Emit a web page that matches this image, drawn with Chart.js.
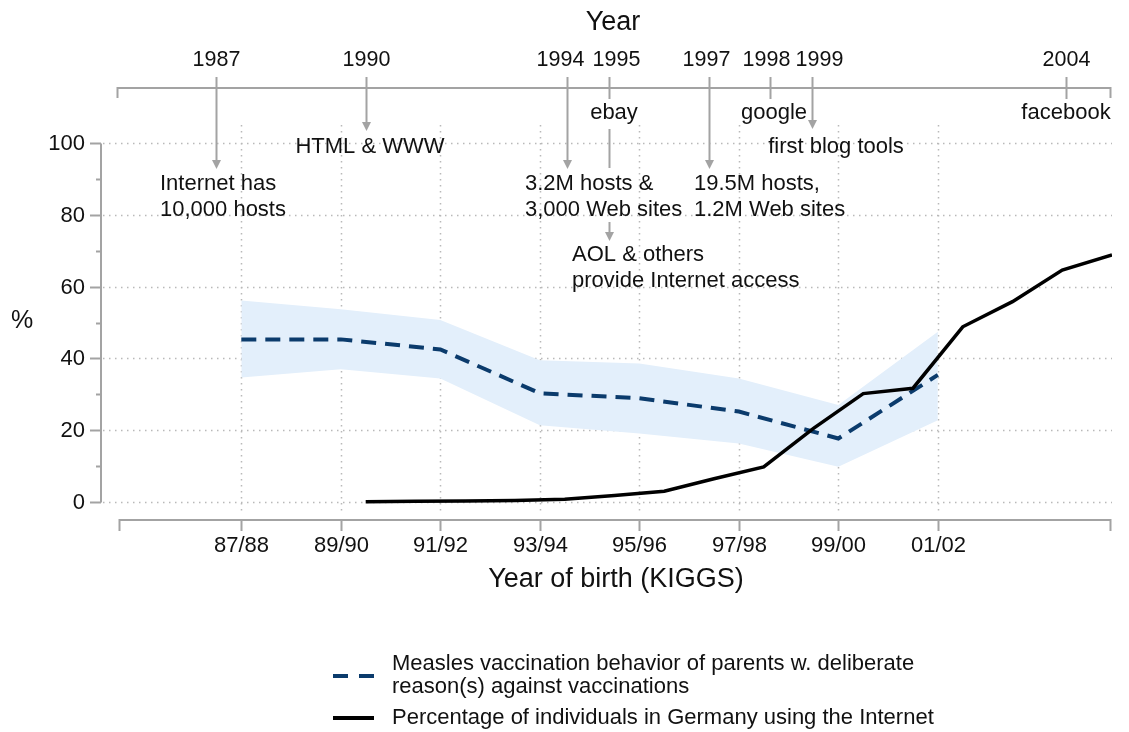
<!DOCTYPE html>
<html>
<head>
<meta charset="utf-8">
<script src="https://cdn.jsdelivr.net/npm/chart.js@4"></script>
<style>
  html, body { margin: 0; padding: 0; background: #fff; overflow: hidden; }
  #wrap { width: 1129px; height: 732px; }
</style>
</head>
<body>
<div id="wrap"><canvas id="chart" width="1129" height="732"></canvas></div>
<script>
// Birth cohorts (KIGGS), placed at the middle of the two years
const cohortLabels = ['87/88', '89/90', '91/92', '93/94', '95/96', '97/98', '99/00', '01/02'];
const cohortPos = [1987.5, 1989.5, 1991.5, 1993.5, 1995.5, 1997.5, 1999.5, 2001.5];

// Measles: parents with deliberate reasons against vaccination (%), with band
const measles = [45.3, 45.3, 42.5, 30.3, 28.9, 25.2, 17.7, 35.4];
const measlesUpper = [56.1, 53.7, 50.7, 39.5, 38.6, 34.4, 27.0, 47.4];
const measlesLower = [34.7, 37.0, 34.4, 21.4, 19.1, 16.3, 9.8, 22.8];

// Internet users in Germany (%)
const netYears = [1990, 1991, 1992, 1993, 1994, 1995, 1996, 1997, 1998, 1999, 2000, 2001, 2002, 2003, 2004, 2005];
const netUsers = [0.1, 0.2, 0.3, 0.4, 0.8, 1.8, 3.0, 6.5, 9.8, 20.5, 30.2, 31.7, 48.8, 55.8, 64.6, 68.8];

// Top "Year" axis
const yearLabels = ['1987', '1990', '1994', '1995', '1997', '1998', '1999', '2004'];
const yearPos = [1987, 1990, 1994.05, 1994.9, 1996.9, 1998.12, 1998.97, 2004.08];

const yTicks = [0, 20, 40, 60, 80, 100];
const yMinor = [10, 30, 50, 70, 90];

const FONT = '"Liberation Sans", Arial, Helvetica, sans-serif';
const AXIS = '#a3a3a3';
const GRID = '#b9b9b9';
const NAVY = '#0b3b6c';

// labels of close years are pushed apart a little
const yearLabelNudge = [0, 0, -7, 7, -3, -4, 7, 0];

const toXY = (xs, ys) => xs.map((x, i) => ({ x: x, y: ys[i] }));

function arrow(ctx, x, y1, y2, head) {
    ctx.beginPath();
    ctx.moveTo(x, y1);
    ctx.lineTo(x, head ? y2 - 8 : y2);
    ctx.stroke();
    if (head) {
        ctx.beginPath();
        ctx.moveTo(x - 4.5, y2 - 9);
        ctx.lineTo(x + 4.5, y2 - 9);
        ctx.lineTo(x, y2);
        ctx.closePath();
        ctx.fill();
    }
}

function text(ctx, str, x, y, size, align) {
    ctx.font = size + 'px ' + FONT;
    ctx.textAlign = align || 'center';
    ctx.textBaseline = 'middle';
    ctx.fillText(str, x, y);
}

const decor = {
    id: 'decor',
    beforeDatasetsDraw(chart) {
        const ctx = chart.ctx;
        const xs = chart.scales.x, ys = chart.scales.y;
        ctx.save();
        ctx.strokeStyle = GRID;
        ctx.lineWidth = 1.5;
        ctx.setLineDash([1.5, 4.5]);
        yTicks.forEach(v => {
            const y = Math.round(ys.getPixelForValue(v)) + 0.5;
            ctx.beginPath();
            ctx.moveTo(103, y);
            ctx.lineTo(xs.getPixelForValue(2005), y);
            ctx.stroke();
        });
        cohortPos.forEach(v => {
            const x = Math.round(xs.getPixelForValue(v)) + 0.5;
            ctx.beginPath();
            ctx.moveTo(x, 125);
            ctx.lineTo(x, 514);
            ctx.stroke();
        });
        ctx.restore();
    },
    afterDraw(chart) {
        const ctx = chart.ctx;
        const xs = chart.scales.x, ys = chart.scales.y;
        const px = v => Math.round(xs.getPixelForValue(v)) + 0.5;
        const py = v => Math.round(ys.getPixelForValue(v)) + 0.5;
        ctx.save();
        ctx.strokeStyle = AXIS;
        ctx.fillStyle = AXIS;
        ctx.lineWidth = 2;

        // left axis
        ctx.beginPath();
        ctx.moveTo(101, py(100));
        ctx.lineTo(101, py(0));
        ctx.stroke();
        yTicks.forEach(v => { ctx.beginPath(); ctx.moveTo(90, py(v)); ctx.lineTo(101, py(v)); ctx.stroke(); });
        yMinor.forEach(v => { ctx.beginPath(); ctx.moveTo(96, py(v)); ctx.lineTo(101, py(v)); ctx.stroke(); });

        // bottom axis
        const bl = px(1985) + 2, br = px(2005) - 2;
        ctx.beginPath();
        ctx.moveTo(bl, 531); ctx.lineTo(bl, 520); ctx.lineTo(br, 520); ctx.lineTo(br, 531);
        ctx.stroke();
        cohortPos.forEach(v => { ctx.beginPath(); ctx.moveTo(px(v), 520); ctx.lineTo(px(v), 531); ctx.stroke(); });

        // top axis
        const tl = px(1985), tr = px(2005) - 2;
        ctx.beginPath();
        ctx.moveTo(tl, 98); ctx.lineTo(tl, 88); ctx.lineTo(tr, 88); ctx.lineTo(tr, 98);
        ctx.stroke();

        const tx = yearPos.map(px);
        // 1987, 1990, 1994, 1997, 1999: arrows down to the events
        arrow(ctx, tx[0], 77, 169, true);
        arrow(ctx, tx[1], 77, 131, true);
        arrow(ctx, tx[2], 77, 169, true);
        arrow(ctx, tx[4], 77, 169, true);
        arrow(ctx, tx[6], 77, 129, true);
        // 1995, 1998, 2004: short ticks
        arrow(ctx, tx[3], 77, 99, false);
        arrow(ctx, tx[5], 77, 99, false);
        arrow(ctx, tx[7], 77, 99, false);
        // ebay -> hosts, hosts -> AOL
        arrow(ctx, tx[3], 129, 168, false);
        arrow(ctx, tx[3], 222, 241, true);

        // labels
        ctx.fillStyle = '#111';
        yTicks.forEach(v => text(ctx, String(v), 85, py(v), 22, 'right'));
        text(ctx, '%', 22, 321, 25);
        cohortLabels.forEach((l, i) => text(ctx, l, px(cohortPos[i]), 546, 22));
        text(ctx, 'Year of birth (KIGGS)', 616, 580, 27);
        text(ctx, 'Year', 613, 23, 27);
        yearLabels.forEach((l, i) => text(ctx, l, tx[i] + yearLabelNudge[i], 60, 21.5));

        text(ctx, 'Internet has', 160, 184, 22, 'left');
        text(ctx, '10,000 hosts', 160, 210, 22, 'left');
        text(ctx, 'HTML & WWW', 370, 147, 22);
        text(ctx, 'ebay', 614, 113, 22);
        text(ctx, '3.2M hosts &', 525, 184, 22, 'left');
        text(ctx, '3,000 Web sites', 525, 210, 22, 'left');
        text(ctx, 'AOL & others', 572, 255, 22, 'left');
        text(ctx, 'provide Internet access', 572, 281, 22, 'left');
        text(ctx, '19.5M hosts,', 694, 184, 22, 'left');
        text(ctx, '1.2M Web sites', 694, 210, 22, 'left');
        text(ctx, 'google', 774, 113, 22);
        text(ctx, 'first blog tools', 836, 147, 22);
        text(ctx, 'facebook', 1066, 113, 22);

        // legend
        ctx.lineWidth = 4;
        ctx.strokeStyle = NAVY;
        ctx.setLineDash([15, 11]);
        ctx.beginPath(); ctx.moveTo(333, 676); ctx.lineTo(374, 676); ctx.stroke();
        ctx.setLineDash([]);
        ctx.strokeStyle = '#000';
        ctx.beginPath(); ctx.moveTo(333, 718); ctx.lineTo(374, 718); ctx.stroke();
        ctx.fillStyle = '#111';
        text(ctx, 'Measles vaccination behavior of parents w. deliberate', 392, 664, 22, 'left');
        text(ctx, 'reason(s) against vaccinations', 392, 687, 22, 'left');
        text(ctx, 'Percentage of individuals in Germany using the Internet', 392, 718, 22, 'left');
        ctx.restore();
    }
};

new Chart(document.getElementById('chart'), {
    type: 'line',
    data: {
        datasets: [
            {
                label: 'lower',
                data: toXY(cohortPos, measlesLower),
                borderWidth: 0,
                pointRadius: 0,
                fill: false,
                order: 3
            },
            {
                label: 'upper',
                data: toXY(cohortPos, measlesUpper),
                borderWidth: 0,
                pointRadius: 0,
                backgroundColor: '#e3effb',
                fill: '-1',
                order: 2
            },
            {
                label: 'Measles vaccination behavior of parents w. deliberate reason(s) against vaccinations',
                data: toXY(cohortPos, measles),
                borderColor: NAVY,
                borderWidth: 4,
                borderDash: [15, 9],
                pointRadius: 0,
                fill: false,
                order: 1
            },
            {
                label: 'Percentage of individuals in Germany using the Internet',
                data: toXY(netYears, netUsers),
                borderColor: '#000',
                borderWidth: 3.5,
                pointRadius: 0,
                fill: false,
                order: 0
            }
        ]
    },
    options: {
        responsive: false,
        animation: false,
        layout: { padding: { left: 102, right: 17, top: 125, bottom: 212 } },
        scales: {
            x: { type: 'linear', min: 1984.7, max: 2005, display: false },
            y: { min: -5, max: 105, display: false }
        },
        plugins: {
            legend: { display: false },
            tooltip: { enabled: false }
        }
    },
    plugins: [decor]
});
</script>
</body>
</html>
